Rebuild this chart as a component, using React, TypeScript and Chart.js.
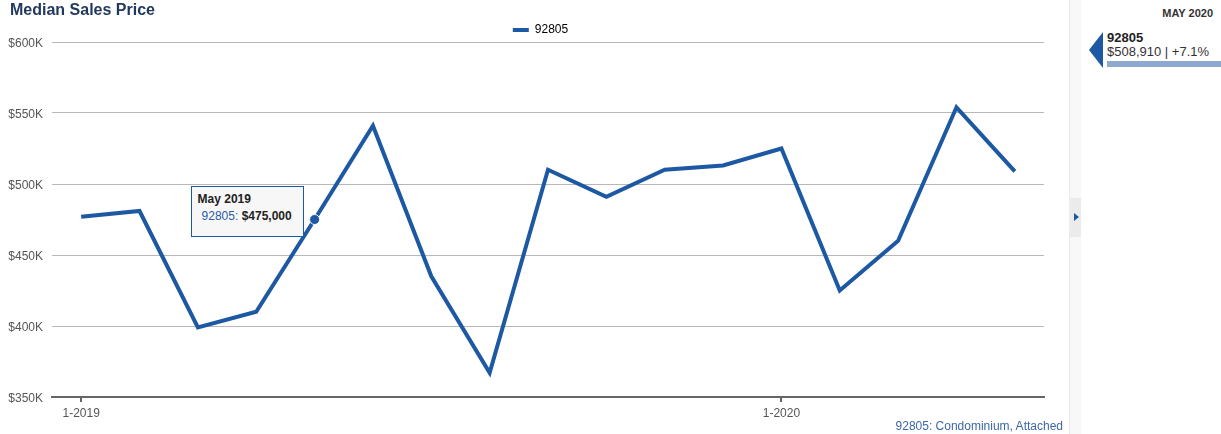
import React, { useEffect, useRef } from 'react';
import { Chart, registerables } from 'chart.js';

Chart.register(...registerables);

const FONT = '"Liberation Sans", Arial, Helvetica, sans-serif';
const BLUE = '#1d58a3';

const chartTitle = 'Median Sales Price';
const seriesName = '92805';
const footerText = '92805: Condominium, Attached';

const months = [
  '1-2019', '2-2019', '3-2019', '4-2019', '5-2019', '6-2019', '7-2019', '8-2019',
  '9-2019', '10-2019', '11-2019', '12-2019', '1-2020', '2-2020', '3-2020', '4-2020', '5-2020',
];
const monthTitles = [
  'Jan 2019', 'Feb 2019', 'Mar 2019', 'Apr 2019', 'May 2019', 'Jun 2019', 'Jul 2019', 'Aug 2019',
  'Sep 2019', 'Oct 2019', 'Nov 2019', 'Dec 2019', 'Jan 2020', 'Feb 2020', 'Mar 2020', 'Apr 2020', 'May 2020',
];
const shownTickLabels = ['1-2019', '1-2020'];
const prices = [
  477000, 481000, 399000, 410000, 475000, 541000, 435000, 367000,
  510000, 491000, 510000, 513000, 525000, 425000, 460000, 554000, 508910,
];
const yTicks = [350000, 400000, 450000, 500000, 550000, 600000];
const highlightIndex = 4;

const panelMonth = 'MAY 2020';
const panelValue = '$508,910';
const panelChange = '+7.1%';

const money = (v: number) => '$' + v.toLocaleString('en-US');

export default function App() {
  const canvasRef = useRef<HTMLCanvasElement>(null);
  const tipRef = useRef<HTMLDivElement>(null);
  const tipTitleRef = useRef<HTMLDivElement>(null);
  const tipValueRef = useRef<HTMLSpanElement>(null);
  const tipNameRef = useRef<HTMLSpanElement>(null);

  useEffect(() => {
    const canvas = canvasRef.current!;
    Chart.defaults.font.family = FONT;
    const chart = new Chart(canvas, {
      type: 'line',
      data: {
        labels: months,
        datasets: [
          {
            label: seriesName,
            data: prices,
            borderColor: BLUE,
            backgroundColor: BLUE,
            borderWidth: 4,
            tension: 0,
            fill: false,
            pointRadius: 0,
            pointHoverRadius: 5,
            pointHoverBackgroundColor: BLUE,
            pointHoverBorderColor: '#ffffff',
            pointHoverBorderWidth: 1,
            borderJoinStyle: 'miter',
          } as any,
        ],
      },
      options: {
        responsive: false,
        animation: false,
        events: [],
        layout: { padding: 0 },
        plugins: {
          title: { display: false },
          legend: {
            position: 'top',
            maxHeight: 42,
            labels: {
              padding: 24,
              boxWidth: 16,
              boxHeight: 4,
              color: '#333',
              font: { family: FONT, size: 12 },
              generateLabels: () => [
                {
                  text: seriesName,
                  fillStyle: BLUE,
                  strokeStyle: BLUE,
                  lineWidth: 0,
                  hidden: false,
                  datasetIndex: 0,
                } as any,
              ],
            },
          },
          tooltip: {
            enabled: false,
            external: ({ tooltip }: any) => {
              const el = tipRef.current;
              if (!el) return;
              const dps = tooltip.dataPoints;
              if (!dps || !dps.length) {
                el.style.display = 'none';
                return;
              }
              const dp = dps[0];
              tipTitleRef.current!.textContent = monthTitles[dp.dataIndex];
              tipNameRef.current!.textContent = dp.dataset.label + ':';
              tipValueRef.current!.textContent = money(dp.raw as number);
              el.style.display = 'block';
              el.style.left = tooltip.caretX - 11 - 113 + 'px';
              el.style.top = tooltip.caretY - 34 + 'px';
            },
          },
        },
        scales: {
          x: {
            type: 'category',
            offset: true,
            afterFit: (s: any) => {
              s.height = 37;
            },
            border: { display: true, color: '#666', width: 2 },
            grid: {
              display: true,
              drawOnChartArea: false,
              drawTicks: true,
              tickLength: 5,
              lineWidth: 2,
              color: (ctx: any) =>
                shownTickLabels.includes(months[ctx.index]) ? '#666' : 'rgba(0,0,0,0)',
            },
            ticks: {
              autoSkip: false,
              maxRotation: 0,
              minRotation: 0,
              padding: 4,
              color: '#555',
              font: { family: FONT, size: 12 },
              callback: (_v: any, i: number) =>
                shownTickLabels.includes(months[i]) ? months[i] : '',
            },
          },
          y: {
            min: yTicks[0],
            max: yTicks[yTicks.length - 1],
            afterFit: (s: any) => {
              s.width = 52;
            },
            afterBuildTicks: (s: any) => {
              s.ticks = yTicks.map((v) => ({ value: v }));
            },
            border: { display: false },
            grid: { drawTicks: false, color: '#b8b8b8', lineWidth: 1 },
            ticks: {
              padding: 9,
              labelOffset: 2,
              color: '#555',
              font: { family: FONT, size: 12 },
              callback: (v: any) => '$' + Number(v) / 1000 + 'K',
            },
          },
          spacer: {
            type: 'linear',
            position: 'right',
            display: true,
            afterFit: (s: any) => {
              s.width = 37;
            },
            border: { display: false },
            grid: { display: false, drawTicks: false },
            ticks: { display: false },
          },
        },
      },
    });

    const active = [{ datasetIndex: 0, index: highlightIndex }];
    const pt: any = chart.getDatasetMeta(0).data[highlightIndex];
    chart.setActiveElements(active);
    chart.tooltip!.setActiveElements(active, { x: pt.x, y: pt.y });
    chart.update();

    return () => {
      chart.destroy();
    };
  }, []);

  return (
    <div
      style={{
        position: 'fixed',
        left: 0,
        top: 0,
        width: 1221,
        height: 434,
        background: '#fff',
        overflow: 'hidden',
        fontFamily: FONT,
      }}
    >
      <canvas
        ref={canvasRef}
        width={1081}
        height={434}
        style={{ position: 'absolute', left: 0, top: 0, width: 1081, height: 434 }}
      />
      <div
        style={{
          position: 'absolute',
          left: 10,
          top: 1,
          fontSize: 16,
          lineHeight: '18px',
          fontWeight: 'bold',
          color: '#22395f',
          whiteSpace: 'nowrap',
        }}
      >
        {chartTitle}
      </div>
      <div
        ref={tipRef}
        style={{
          position: 'absolute',
          display: 'none',
          boxSizing: 'border-box',
          width: 113,
          height: 51,
          background: '#f7f7f7',
          border: '1px solid ' + BLUE,
          padding: '4px 6px',
          fontSize: 12,
          color: '#222',
          whiteSpace: 'nowrap',
        }}
      >
        <div ref={tipTitleRef} style={{ fontWeight: 'bold', lineHeight: '16px' }} />
        <div style={{ lineHeight: '16px', marginTop: 1, paddingLeft: 4 }}>
          <span ref={tipNameRef} style={{ color: '#2b5ca8' }} />{' '}
          <span ref={tipValueRef} style={{ fontWeight: 'bold', color: '#222' }} />
        </div>
      </div>
      <div
        style={{
          position: 'absolute',
          right: 1221 - 1063,
          top: 418,
          fontSize: 12,
          lineHeight: '16px',
          color: '#3c68a8',
          whiteSpace: 'nowrap',
        }}
      >
        {footerText}
      </div>

      {/* side strip */}
      <div
        style={{
          position: 'absolute',
          left: 1069,
          top: 0,
          width: 11,
          height: 434,
          background: '#f8f8f8',
          borderLeft: '1px solid #ececec',
        }}
      >
        <div
          style={{
            position: 'absolute',
            left: 0,
            top: 198,
            width: 11,
            height: 39,
            background: '#ebebeb',
          }}
        >
          <div
            style={{
              position: 'absolute',
              left: 4,
              top: 15,
              width: 0,
              height: 0,
              borderLeft: '5px solid ' + BLUE,
              borderTop: '4.5px solid transparent',
              borderBottom: '4.5px solid transparent',
            }}
          />
        </div>
      </div>

      {/* right panel */}
      <div
        style={{
          position: 'absolute',
          right: 8,
          top: 6,
          fontSize: 11,
          lineHeight: '14px',
          fontWeight: 'bold',
          color: '#333',
        }}
      >
        {panelMonth}
      </div>
      <div
        style={{
          position: 'absolute',
          left: 1089,
          top: 32,
          width: 0,
          height: 0,
          borderRight: '14px solid ' + BLUE,
          borderTop: '18.5px solid transparent',
          borderBottom: '18.5px solid transparent',
        }}
      />
      <div
        style={{
          position: 'absolute',
          left: 1107,
          top: 30,
          fontSize: 13,
          lineHeight: '15px',
          fontWeight: 'bold',
          color: '#222',
        }}
      >
        {seriesName}
      </div>
      <div
        style={{
          position: 'absolute',
          left: 1107,
          top: 44,
          fontSize: 13,
          lineHeight: '15px',
          color: '#333',
          whiteSpace: 'nowrap',
        }}
      >
        {panelValue} | {panelChange}
      </div>
      <div
        style={{
          position: 'absolute',
          left: 1107,
          top: 61,
          width: 114,
          height: 6,
          background: '#8da9cf',
        }}
      />
    </div>
  );
}
